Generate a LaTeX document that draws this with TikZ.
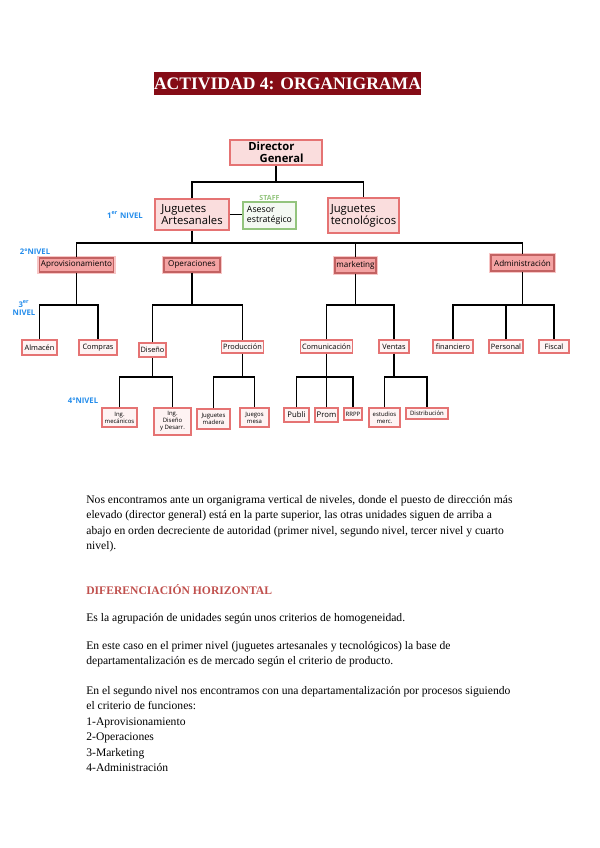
\documentclass[tikz,border=0pt]{standalone}
\usepackage{fontspec}
\setmainfont{Liberation Serif}
\newfontfamily\hand{Open Sans}
\usetikzlibrary{positioning}
\definecolor{titlered}{RGB}{133,12,22}
\definecolor{boxline}{RGB}{229,115,115}
\definecolor{boxfill}{RGB}{250,221,221}
\definecolor{lvlfill}{RGB}{244,163,163}
\definecolor{lvlglow}{RGB}{248,198,198}
\definecolor{leaffill}{RGB}{254,243,243}
\definecolor{staffgreen}{RGB}{147,196,125}
\definecolor{nivelblue}{RGB}{35,140,235}
\definecolor{headred}{RGB}{192,80,77}

\begin{document}
\begin{tikzpicture}[x=0.02cm,y=-0.02cm,
  con/.style={line width=0.85pt,black},
  wh/.style 2 args={minimum width=#1*0.02cm,minimum height=#2*0.02cm},
  chief/.style={draw=boxline,fill=boxfill,line width=0.7pt,inner sep=1pt,align=left,
    font=\hand\fontsize{6.4}{7}\selectfont},
  staff/.style={draw=staffgreen,fill=staffgreen!10,line width=0.7pt,inner sep=1pt,align=left,
    font=\hand\fontsize{5}{5.6}\selectfont},
  dept/.style={draw=boxline!85!black,fill=lvlfill,line width=0.6pt,inner sep=0.8pt,
    preaction={draw=lvlglow,line width=2.4pt},font=\hand\fontsize{4.6}{5}\selectfont},
  unit/.style={draw=boxline,fill=leaffill,line width=0.6pt,inner sep=0.8pt,
    font=\hand\fontsize{4.2}{5}\selectfont},
  task/.style={draw=boxline,fill=leaffill,line width=0.6pt,inner sep=0.6pt,align=center,
    font=\hand\fontsize{3.4}{4}\selectfont},
  nivel/.style={text=nivelblue,inner sep=0pt,align=center,
    font=\hand\bfseries\fontsize{4.4}{4.8}\selectfont},
  body/.style={anchor=north west,inner sep=0pt,align=left,
    font=\fontsize{6.6}{8.8}\selectfont}]
\useasboundingbox (0,0) rectangle (599,848);
% titulo
\node[fill=titlered,text=white,wh={261}{23},inner sep=0pt,
  font=\bfseries\fontsize{10}{12}\selectfont] (title) at (287.5,83.5) {ACTIVIDAD 4: ORGANIGRAMA};
% ---------- direccion y 1er nivel ----------
\node[chief,wh={92}{25},font=\hand\bfseries\fontsize{6.4}{7}\selectfont] (dir) at (276,152.5) {Director\\\quad General};
\node[chief,wh={74}{31}] (ja) at (192,214.5) {Juguetes\\Artesanales};
\node[staff,wh={53}{27}] (ase) at (269.5,215.5) {Asesor\\estratégico};
\node[text=staffgreen,inner sep=0pt,font=\hand\bfseries\fontsize{4}{4}\selectfont,above=0.5pt of ase] (stf) {STAFF};
\node[chief,wh={71}{35}] (jt) at (363.5,215.5) {Juguetes\\tecnológicos};
% ---------- 2o nivel ----------
\node[dept,wh={71}{14}] (apr) at (76.5,265) {Aprovisionamiento};
\node[dept,wh={56}{14}] (ope) at (192,265) {Operaciones};
\node[dept,wh={41}{15}] (mkt) at (355.5,265.5) {marketing};
\node[dept,wh={63}{16}] (adm) at (522.5,263) {Administración};
% ---------- 3er nivel ----------
\node[unit,wh={35}{15}] (alm) at (39.5,347.5) {Almacén};
\node[unit,wh={38}{15}] (cmp) at (98,347.5) {Compras};
\node[unit,wh={27}{14}] (dis) at (152.5,350) {Diseño};
\node[unit,wh={39}{12}] (pro) at (242.5,347) {Producción};
\node[unit,wh={47}{13}] (cmu) at (326.5,346.5) {Comunicación};
\node[unit,wh={30}{13}] (ven) at (394,346.5) {Ventas};
\node[unit,wh={40}{13}] (fin) at (453,346.5) {financiero};
\node[unit,wh={34}{13}] (per) at (506,346.5) {Personal};
\node[unit,wh={30}{13}] (fis) at (554,346.5) {Fiscal};
% ---------- 4o nivel ----------
\node[task,wh={35}{19}] (ingm) at (119.5,417.5) {Ing.\\mecánicos};
\node[task,wh={37}{27}] (ingd) at (172.5,421.5) {Ing.\\Diseño\\y Desarr.};
\node[task,wh={33}{20}] (jmad) at (213.5,419) {Juguetes\\madera};
\node[task,wh={29}{19}] (jmes) at (254.5,417.5) {Juegos\\mesa};
\node[task,wh={25}{14},font=\hand\fontsize{4.4}{5}\selectfont] (pub) at (296.5,415) {Publi};
\node[task,wh={23}{14},font=\hand\fontsize{4.4}{5}\selectfont] (prm) at (326.5,415) {Prom};
\node[task,wh={18}{12}] (rrp) at (353,414) {RRPP};
\node[task,wh={31}{19}] (est) at (384.5,417.5) {estudios\\merc.};
\node[task,wh={42}{11}] (dst) at (427,413.5) {Distribución};
% niveles
\node[nivel] (n1) at (125,215) {1\textsuperscript{er} NIVEL};
\node[nivel] (n2) at (35,252) {2°NIVEL};
\node[nivel] (n3) at (24,308) {3\textsuperscript{er}\\NIVEL};
\node[nivel] (n4) at (83,401) {4°NIVEL};
% ---------- conectores ----------
\coordinate (b0) at (0,182);
\coordinate (b1) at (0,243);
\coordinate (b2) at (0,305);
\coordinate (b3) at (0,377);
\draw[con] (dir.south) -- (dir.south |- b0);
\draw[con] (ja.north) |- (jt.north |- b0) -- (jt.north);
\draw[con] (ja.east) -- (ja.east -| ase.west);
\draw[con] (ja.south) -- (ja.south |- b1);
\draw[con] (apr.north) |- (adm.north |- b1) -- (adm.north);
\draw[con] (mkt.north) -- (mkt.north |- b1);
\foreach \p/\a/\b in {apr/alm/cmp,ope/dis/pro,mkt/cmu/ven,adm/fin/fis}{
  \draw[con] (\p.south) -- (\p.south |- b2);
  \draw[con] (\a.north) |- (\b.north |- b2) -- (\b.north);}
\draw[con] (per.north) -- (per.north |- b2);
\foreach \p/\a/\b in {dis/ingm/ingd,pro/jmad/jmes,cmu/pub/rrp,ven/est/dst}{
  \draw[con] (\p.south) -- (\p.south |- b3);
  \draw[con] (\a.north) |- (\b.north |- b3) -- (\b.north);}
\draw[con] (prm.north) -- (prm.north |- b3);
% ---------- texto ----------
\node[body] (p1) at (86,495) {Nos encontramos ante un organigrama vertical de niveles, donde  el puesto de dirección más\\
elevado (director general) está en la parte superior, las otras unidades siguen de arriba a\\
abajo en orden decreciente de autoridad (primer nivel, segundo nivel, tercer nivel y cuarto\\
nivel).};
\node[body,text=headred,font=\bfseries\fontsize{6.6}{8.8}\selectfont] (h1) at (86,584) {DIFERENCIACIÓN HORIZONTAL};
\node[body] (p2) at (86,613) {Es la agrupación de unidades según unos criterios de homogeneidad.};
\node[body] (p3) at (86,641) {En este caso en el primer nivel (juguetes artesanales y tecnológicos) la base de\\
departamentalización es de mercado  según el criterio de producto.};
\node[body] (p4) at (86,686) {En el segundo nivel nos encontramos con una departamentalización por procesos siguiendo\\
el criterio de funciones:\\
1-Aprovisionamiento\\
2-Operaciones\\
3-Marketing\\
4-Administración};
\end{tikzpicture}
\end{document}
